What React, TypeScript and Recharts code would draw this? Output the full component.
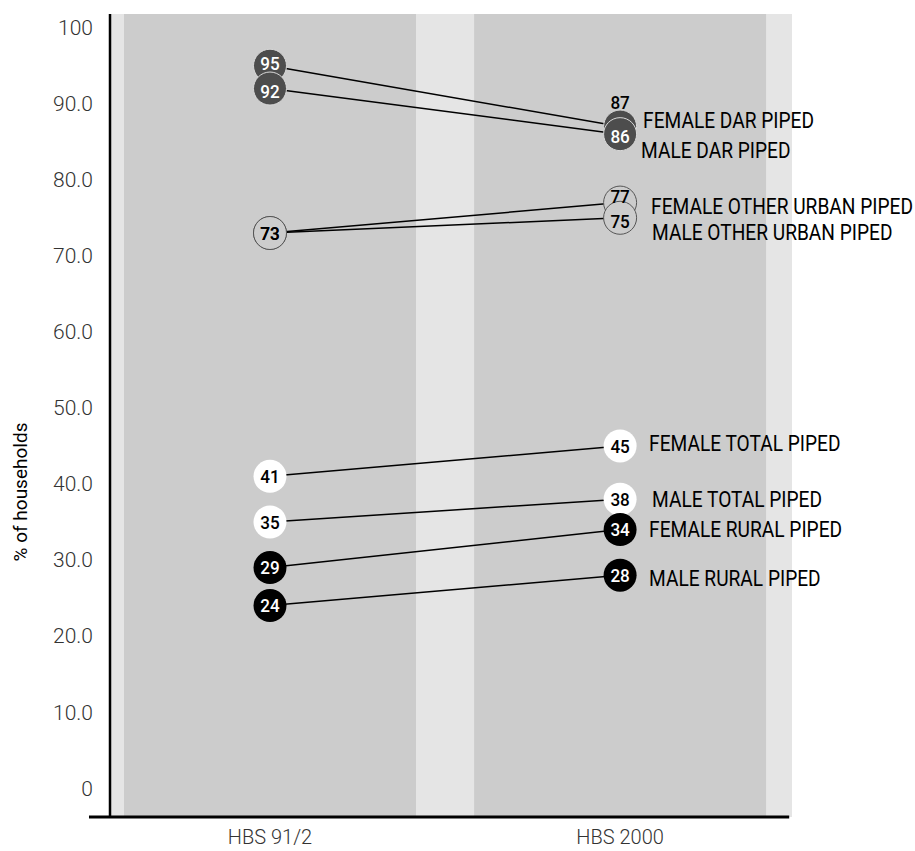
import React from 'react';
import { LineChart, Line, XAxis, YAxis, ReferenceArea, ReferenceLine } from 'recharts';

// values (% of households with piped water)
const categories = ['HBS 91/2', 'HBS 2000'];
const femaleDar = [95, 87];
const maleDar = [92, 86];
const femaleOtherUrban = [73, 77];
const maleOtherUrban = [73, 75];
const femaleTotal = [41, 45];
const maleTotal = [35, 38];
const femaleRural = [29, 34];
const maleRural = [24, 28];
const yTicks = [0, 10, 20, 30, 40, 50, 60, 70, 80, 90, 100];

const FONT = "Roboto, 'Liberation Sans', sans-serif";

// label nudges keep overlapping numbers readable (valueDy per point)
const series = [
  { key: 'femaleDar', name: 'FEMALE DAR PIPED', values: femaleDar, fill: '#4d4d4d', stroke: '#d9d9d9', text: '#fff', nameDx: 23, nameDy: -6, valueDy: [-3, -24] },
  { key: 'maleDar', name: 'MALE DAR PIPED', values: maleDar, fill: '#4d4d4d', stroke: '#d9d9d9', text: '#fff', nameDx: 21, nameDy: 16, valueDy: [3, 2] },
  { key: 'femaleOtherUrban', name: 'FEMALE OTHER URBAN PIPED', values: femaleOtherUrban, fill: '#cccccc', stroke: '#555', text: '#000', nameDx: 31, nameDy: 3, valueDy: [0, -6] },
  { key: 'maleOtherUrban', name: 'MALE OTHER URBAN PIPED', values: maleOtherUrban, fill: '#cccccc', stroke: '#555', text: '#000', nameDx: 32, nameDy: 14, valueDy: [0, 3] },
  { key: 'femaleTotal', name: 'FEMALE TOTAL PIPED', values: femaleTotal, fill: '#fff', stroke: 'none', text: '#000', nameDx: 29, nameDy: -3, valueDy: [0, 0] },
  { key: 'maleTotal', name: 'MALE TOTAL PIPED', values: maleTotal, fill: '#fff', stroke: 'none', text: '#000', nameDx: 32, nameDy: 0, valueDy: [0, 0] },
  { key: 'femaleRural', name: 'FEMALE RURAL PIPED', values: femaleRural, fill: '#000', stroke: 'none', text: '#fff', nameDx: 29, nameDy: 0, valueDy: [0, 0] },
  { key: 'maleRural', name: 'MALE RURAL PIPED', values: maleRural, fill: '#000', stroke: 'none', text: '#fff', nameDx: 29, nameDy: 3, valueDy: [0, 0] },
];

type Series = typeof series[number];

const data = categories.map((c, i) => {
  const row: Record<string, number | string> = { x: i, cat: c };
  series.forEach((s) => { row[s.key] = s.values[i]; });
  return row;
});

const circleDot = (s: Series) => (props: any) => {
  const { cx, cy, index } = props;
  if (cx == null || cy == null) return <g key={`c-${s.key}-${index}`} />;
  return <circle key={`c-${s.key}-${index}`} cx={cx} cy={cy} r={16.5} fill={s.fill} stroke={s.stroke} strokeWidth={1} />;
};

// numbers + series names, drawn after every circle so nothing hides them
const textDot = (s: Series) => (props: any) => {
  const { cx, cy, index, value } = props;
  if (cx == null || cy == null) return <g key={`t-${s.key}-${index}`} />;
  const dy = s.valueDy[index];
  const outside = Math.abs(dy) > 15;
  return (
    <g key={`t-${s.key}-${index}`}>
      <text
        transform={`translate(${cx},${cy + dy}) scale(0.9,1)`}
        dy="0.36em"
        textAnchor="middle"
        fill={outside ? '#000' : s.text}
        fontSize={19}
        fontWeight={500}
        fontFamily={FONT}
      >
        {value}
      </text>
      {index === 1 && (
        <text
          transform={`translate(${cx + s.nameDx},${cy + s.nameDy}) scale(0.87,1)`}
          dy="0.36em"
          fontSize={22}
          fontFamily={FONT}
          fill="#000"
        >
          {s.name}
        </text>
      )}
    </g>
  );
};

const yLabel = () => (
  <text x={20} y={492} transform="rotate(-90 20 492)" textAnchor="middle" dy="0.36em" fontSize={19} fontFamily={FONT} fill="#000">
    % of households
  </text>
);

export default function App() {
  return (
    <div style={{ position: 'absolute', left: 0, top: 0, background: '#fff' }}>
      <LineChart width={915} height={851} data={data} margin={{ top: 14, right: 123, bottom: 0, left: 0 }}>
        <ReferenceArea x1={-0.457} x2={1.491} y1={-3.8} y2={101.8} fill="#e5e5e5" fillOpacity={1} stroke="none" />
        <ReferenceArea x1={-0.417} x2={0.417} y1={-3.8} y2={101.8} fill="#cccccc" fillOpacity={1} stroke="none" />
        <ReferenceArea x1={0.583} x2={1.417} y1={-3.8} y2={101.8} fill="#cccccc" fillOpacity={1} stroke="none" />
        <XAxis
          type="number"
          dataKey="x"
          domain={[-0.457, 1.491]}
          ticks={[0, 1]}
          tickFormatter={(v: number) => categories[v] ?? ''}
          axisLine={false}
          tickLine={false}
          tickSize={0}
          tickMargin={13}
          height={34}
          tick={{ fontSize: 20, fill: '#333', fontFamily: FONT, fontWeight: 300 }}
        />
        <YAxis
          type="number"
          domain={[-3.8, 101.8]}
          ticks={yTicks}
          tickFormatter={(v: number) => (v === 0 || v === 100 ? String(v) : v.toFixed(1))}
          width={110}
          axisLine={{ stroke: '#000', strokeWidth: 2.5 }}
          tickLine={false}
          tickSize={0}
          tickMargin={17}
          tick={{ fontSize: 21, fill: '#333', fontFamily: FONT, fontWeight: 300 }}
          label={yLabel}
        />
        <ReferenceLine
          segment={[{ x: -0.517, y: -3.8 }, { x: 1.483, y: -3.8 }]}
          stroke="#000"
          strokeWidth={3}
          ifOverflow="visible"
        />
        {series.map((s) => (
          <Line
            key={s.key}
            dataKey={s.key}
            stroke="#000"
            strokeWidth={1.5}
            dot={circleDot(s)}
            activeDot={false}
            isAnimationActive={false}
          />
        ))}
        {series.map((s) => (
          <Line
            key={`lbl-${s.key}`}
            dataKey={s.key}
            stroke="none"
            dot={textDot(s)}
            activeDot={false}
            legendType="none"
            isAnimationActive={false}
          />
        ))}
      </LineChart>
    </div>
  );
}
